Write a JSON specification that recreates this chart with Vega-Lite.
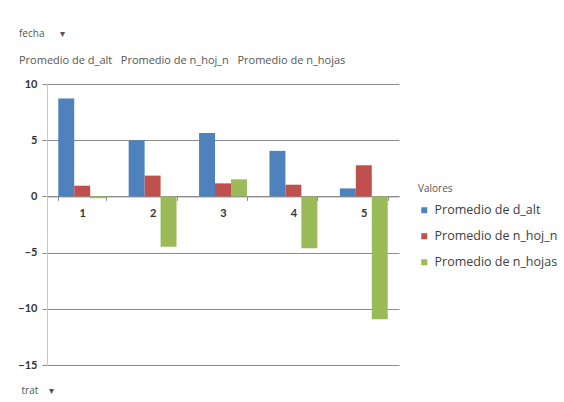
{
  "$schema": "https://vega.github.io/schema/vega-lite/v6.json",
  "width": 352,
  "height": 281,
  "autosize": {"type": "none"},
  "padding": {"left": 47, "top": 84, "right": 165, "bottom": 37},
  "background": "white",
  "title": {
    "text": "fecha\u00a0\u00a0\u00a0\u00a0\u00a0\u00a0\u25be",
    "subtitle": "Promedio de d_alt\u00a0\u00a0\u00a0Promedio de n_hoj_n\u00a0\u00a0\u00a0Promedio de n_hojas",
    "anchor": "start",
    "frame": "group",
    "orient": "top",
    "offset": 12,
    "dx": -28,
    "font": "Open Sans",
    "fontSize": 10,
    "fontWeight": "normal",
    "color": "#555555",
    "subtitleFont": "Open Sans",
    "subtitleFontSize": 11,
    "subtitleColor": "#555555",
    "subtitlePadding": 16
  },
  "data": {
    "values": [
      {"trat": "1", "serie": "Promedio de d_alt", "valor": 8.72},
      {"trat": "1", "serie": "Promedio de n_hoj_n", "valor": 0.95},
      {"trat": "1", "serie": "Promedio de n_hojas", "valor": -0.16},
      {"trat": "2", "serie": "Promedio de d_alt", "valor": 5.0},
      {"trat": "2", "serie": "Promedio de n_hoj_n", "valor": 1.85},
      {"trat": "2", "serie": "Promedio de n_hojas", "valor": -4.49},
      {"trat": "3", "serie": "Promedio de d_alt", "valor": 5.65},
      {"trat": "3", "serie": "Promedio de n_hoj_n", "valor": 1.16},
      {"trat": "3", "serie": "Promedio de n_hojas", "valor": 1.52},
      {"trat": "4", "serie": "Promedio de d_alt", "valor": 4.05},
      {"trat": "4", "serie": "Promedio de n_hoj_n", "valor": 1.04},
      {"trat": "4", "serie": "Promedio de n_hojas", "valor": -4.61},
      {"trat": "5", "serie": "Promedio de d_alt", "valor": 0.71},
      {"trat": "5", "serie": "Promedio de n_hoj_n", "valor": 2.77},
      {"trat": "5", "serie": "Promedio de n_hojas", "valor": -10.93}
    ]
  },
  "mark": {"type": "bar"},
  "encoding": {
    "x": {
      "field": "trat",
      "type": "ordinal",
      "scale": {"paddingInner": 0.32, "paddingOuter": 0.16},
      "axis": {
        "title": "trat\u00a0\u00a0\u00a0\u00a0\u25be",
        "labelAngle": 0,
        "offset": -168.6,
        "tickBand": "extent",
        "domainColor": "#8c8c8c",
        "tickColor": "#8c8c8c",
        "tickSize": 4,
        "labelPadding": 7,
        "labelFont": "Lato",
        "labelFontSize": 11,
        "labelFontWeight": "bold",
        "labelColor": "#333333",
        "grid": false,
        "titleX": -26,
        "titleY": 194,
        "titleAlign": "left",
        "titleBaseline": "middle",
        "titleFont": "Open Sans",
        "titleFontSize": 10,
        "titleFontWeight": "normal",
        "titleColor": "#555555"
      }
    },
    "xOffset": {
      "field": "serie",
      "type": "nominal",
      "sort": ["Promedio de d_alt", "Promedio de n_hoj_n", "Promedio de n_hojas"]
    },
    "y": {
      "field": "valor",
      "type": "quantitative",
      "stack": null,
      "scale": {"domain": [-15, 10], "nice": false, "zero": false},
      "axis": {
        "values": [-15, -10, -5, 0, 5, 10],
        "title": null,
        "grid": true,
        "gridColor": "#8c8c8c",
        "domainColor": "#c8c8c8",
        "tickColor": "#8c8c8c",
        "tickSize": 5,
        "labelPadding": 5,
        "labelFont": "Lato",
        "labelFontSize": 11,
        "labelFontWeight": "bold",
        "labelColor": "#333333"
      }
    },
    "color": {
      "field": "serie",
      "type": "nominal",
      "scale": {
        "domain": ["Promedio de d_alt", "Promedio de n_hoj_n", "Promedio de n_hojas"],
        "range": ["#4f81bd", "#c0504d", "#9bbb59"]
      },
      "legend": {
        "orient": "none",
        "legendX": 371,
        "legendY": 100,
        "padding": 0,
        "title": "Valores",
        "titleFont": "Open Sans",
        "titleFontSize": 10,
        "titleFontWeight": "normal",
        "titleColor": "#555555",
        "titlePadding": 10,
        "symbolType": "square",
        "symbolSize": 36,
        "symbolStrokeWidth": 0,
        "labelFont": "Open Sans",
        "labelFontSize": 12.5,
        "labelColor": "#404040",
        "labelOffset": 4,
        "rowPadding": 13
      }
    }
  },
  "config": {"view": {"stroke": null}}
}
